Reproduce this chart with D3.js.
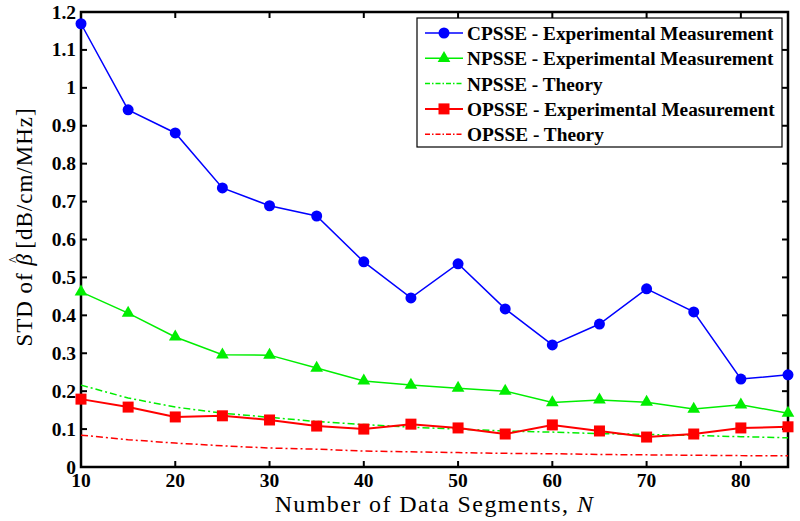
<!DOCTYPE html>
<html>
<head>
<meta charset="utf-8">
<script src="https://cdn.jsdelivr.net/npm/d3@7"></script>
<style>
  body { margin: 0; background: #fff; }
  svg { display: block; }
  text { font-family: "Liberation Serif", "DejaVu Serif", serif; }
</style>
</head>
<body>
<svg width="800" height="521"></svg>
<script>
const segments = [10, 15, 20, 25, 30, 35, 40, 45, 50, 55, 60, 65, 70, 75, 80, 85];
const cpsseExp = [1.169, 0.942, 0.881, 0.736, 0.689, 0.662, 0.541, 0.446, 0.536, 0.417, 0.322, 0.377, 0.470, 0.409, 0.232, 0.243];
const npsseExp = [0.462, 0.406, 0.343, 0.296, 0.295, 0.261, 0.227, 0.216, 0.208, 0.200, 0.170, 0.177, 0.171, 0.153, 0.164, 0.142];
const npsseTheory = [0.216, 0.182, 0.158, 0.142, 0.131, 0.120, 0.112, 0.105, 0.100, 0.095, 0.092, 0.088, 0.086, 0.083, 0.080, 0.077];
const opsseExp = [0.179, 0.158, 0.132, 0.135, 0.124, 0.108, 0.100, 0.113, 0.103, 0.087, 0.111, 0.095, 0.079, 0.087, 0.103, 0.106];
const opsseTheory = [0.084, 0.072, 0.063, 0.056, 0.050, 0.047, 0.042, 0.040, 0.038, 0.036, 0.035, 0.033, 0.032, 0.031, 0.030, 0.030];
const xTicks = [10, 20, 30, 40, 50, 60, 70, 80];
const yTicks = [0, 0.1, 0.2, 0.3, 0.4, 0.5, 0.6, 0.7, 0.8, 0.9, 1, 1.1, 1.2];

const series = [
  { name: "CPSSE - Experimental Measurement", values: cpsseExp, color: "#0000ff", width: 1.5, marker: "circle" },
  { name: "NPSSE - Experimental Measurement", values: npsseExp, color: "#00ee00", width: 1.5, marker: "triangle" },
  { name: "NPSSE - Theory", values: npsseTheory, color: "#00ee00", width: 1.5, dash: "7,3,2,3" },
  { name: "OPSSE - Experimental Measurement", values: opsseExp, color: "#ff0000", width: 2, marker: "square" },
  { name: "OPSSE - Theory", values: opsseTheory, color: "#ff0000", width: 1.5, dash: "7,3,2,3" },
];

const svg = d3.select("svg");
const margin = { left: 81, right: 12, top: 12, bottom: 54 };
const W = 800, H = 521;
const x = d3.scaleLinear().domain([10, 85]).range([margin.left, W - margin.right]);
const y = d3.scaleLinear().domain([0, 1.2]).range([H - margin.bottom, margin.top]);

// tick marks (inward, on all four sides)
const tickLen = 6;
const axes = svg.append("g").attr("stroke", "#000").attr("stroke-width", 2);
xTicks.forEach((t) => {
  axes.append("line").attr("x1", x(t)).attr("x2", x(t)).attr("y1", y(0)).attr("y2", y(0) - tickLen);
  axes.append("line").attr("x1", x(t)).attr("x2", x(t)).attr("y1", y(1.2)).attr("y2", y(1.2) + tickLen);
});
yTicks.forEach((t) => {
  axes.append("line").attr("x1", x(10)).attr("x2", x(10) + tickLen).attr("y1", y(t)).attr("y2", y(t));
  axes.append("line").attr("x1", x(85)).attr("x2", x(85) - tickLen).attr("y1", y(t)).attr("y2", y(t));
});
axes.append("rect")
  .attr("x", x(10)).attr("y", y(1.2))
  .attr("width", x(85) - x(10)).attr("height", y(0) - y(1.2))
  .attr("fill", "none").attr("stroke-width", 2.5);

// tick labels
svg.append("g").selectAll("text").data(xTicks).join("text")
  .attr("x", (d) => x(d)).attr("y", y(0) + 20)
  .attr("text-anchor", "middle")
  .style("font-weight", "bold").style("font-size", "19.5px")
  .text((d) => d);
svg.append("g").selectAll("text").data(yTicks).join("text")
  .attr("x", x(10) - 5).attr("y", (d) => y(d) + 6.5)
  .attr("text-anchor", "end")
  .style("font-weight", "bold").style("font-size", "19.5px")
  .text((d) => d);

// axis labels
const xl = svg.append("text")
  .attr("x", (x(10) + x(85)) / 2).attr("y", 512)
  .attr("text-anchor", "middle")
  .style("font-size", "24px").style("letter-spacing", "1.4px");
xl.append("tspan").text("Number of Data Segments, ");
xl.append("tspan").style("font-style", "italic").text("N");

const yl = svg.append("text")
  .attr("transform", `translate(32,227) rotate(-90)`)
  .attr("text-anchor", "middle")
  .style("font-size", "23px").style("letter-spacing", "1px");
yl.append("tspan").text("STD of ");
yl.append("tspan").style("font-style", "italic").text("\u03B2");
yl.append("tspan").attr("dx", -10).attr("dy", -13).style("font-size", "14px").text("^");
yl.append("tspan").attr("dy", 13).text(" [dB/cm/MHz]");

// lines
const line = d3.line().x((d, i) => x(segments[i])).y((d) => y(d));
const plot = svg.append("g");
function drawMarker(g, type, color, cx, cy) {
  if (type === "circle") {
    g.append("circle").attr("cx", cx).attr("cy", cy).attr("r", 5.5).attr("fill", color);
  } else if (type === "triangle") {
    g.append("path").attr("d", d3.symbol(d3.symbolTriangle, 70)()).attr("transform", `translate(${cx},${cy})`).attr("fill", color);
  } else if (type === "square") {
    g.append("rect").attr("x", cx - 5.5).attr("y", cy - 5.5).attr("width", 11).attr("height", 11).attr("fill", color);
  }
}
const drawOrder = [4, 2, 3, 1, 0];
drawOrder.forEach((k) => {
  const s = series[k];
  plot.append("path").datum(s.values)
    .attr("d", line).attr("fill", "none")
    .attr("stroke", s.color).attr("stroke-width", s.width)
    .attr("stroke-dasharray", s.dash || null);
  if (s.marker) {
    s.values.forEach((v, i) => drawMarker(plot, s.marker, s.color, x(segments[i]), y(v)));
  }
});

// legend
const lg = svg.append("g");
lg.append("rect").attr("x", 417).attr("y", 18).attr("width", 365).attr("height", 129)
  .attr("fill", "#fff").attr("stroke", "#000").attr("stroke-width", 1.2);
series.forEach((s, i) => {
  const ly = 33 + i * 25.3;
  lg.append("line").attr("x1", 425).attr("x2", 463).attr("y1", ly).attr("y2", ly)
    .attr("stroke", s.color).attr("stroke-width", s.width)
    .attr("stroke-dasharray", s.dash ? "5,2,1.5,2" : null);
  if (s.marker) drawMarker(lg, s.marker, s.color, 444, ly);
  lg.append("text").attr("x", 467).attr("y", ly + 7)
    .style("font-weight", "bold").style("font-size", "19.3px")
    .text(s.name);
});
</script>
</body>
</html>
